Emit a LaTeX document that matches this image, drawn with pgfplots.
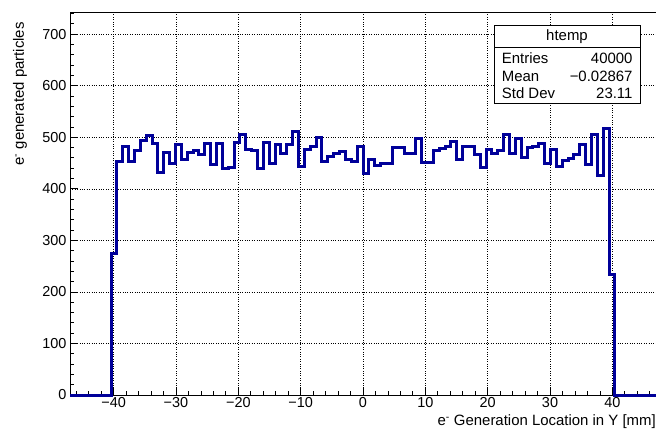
\documentclass[border=0pt]{standalone}
\usepackage{fontspec}
\setmainfont{Liberation Sans}
\usepackage{pgfplots}
\pgfplotsset{compat=1.18}
\definecolor{rootblue}{HTML}{000099}
\begin{document}
\begin{tikzpicture}[x=1bp,y=1bp]
\begin{axis}[
  at={(0,0)}, anchor=south west,
  scale only axis, width=586bp, height=383bp,
  xmin=-47, xmax=47, ymin=0, ymax=743,
  axis line style={line width=0.8bp},
  xtick={-40,-30,...,40},
  xticklabels={−40,−30,−20,−10,0,10,20,30,40},
  ytick={0,100,...,700},
  minor xtick={-46,-44,...,46},
  minor ytick={20,40,...,740},
  tick align=inside,
  xtick pos=bottom, ytick pos=left,
  major tick length=8bp, minor tick length=4bp,
  grid=major, major grid style={black, dotted, line width=0.6bp},
  tick style={black, line width=0.8bp},
  ticklabel style={font=\fontsize{14.5}{17}\selectfont},
  xticklabel style={yshift=1.5bp},
  /pgf/number format/assume math mode=true,
  clip=false,
]
\addplot[const plot, color=rootblue, line width=3bp] coordinates {
(-47,0) (-40.42,275) (-39.48,453) (-38.54,483) (-37.60,453) (-36.66,475)
(-35.72,494) (-34.78,503) (-33.84,488) (-32.90,432) (-31.96,470) (-31.02,450)
(-30.08,486) (-29.14,457) (-28.20,471) (-27.26,474) (-26.32,466) (-25.38,488)
(-24.44,448) (-23.50,488) (-22.56,439) (-21.62,442) (-20.68,490) (-19.74,505)
(-18.80,477) (-17.86,475) (-16.92,440) (-15.98,490) (-15.04,450) (-14.10,485)
(-13.16,469) (-12.22,485) (-11.28,511) (-10.34,443) (-9.40,477) (-8.46,482)
(-7.52,500) (-6.58,453) (-5.64,463) (-4.70,469) (-3.76,472) (-2.82,457)
(-1.88,453) (-0.94,483) (0.00,430) (0.94,456) (1.88,445) (2.82,450)
(3.76,450) (4.70,481) (5.64,481) (6.58,469) (7.52,469) (8.46,498)
(9.40,451) (10.34,451) (11.28,475) (12.22,479) (13.16,482) (14.10,492)
(15.04,457) (15.98,483) (16.92,483) (17.86,466) (18.80,441) (19.74,477)
(20.68,468) (21.62,475) (22.56,505) (23.50,469) (24.44,498) (25.38,461)
(26.32,480) (27.26,482) (28.20,488) (29.14,450) (30.08,477) (31.02,443)
(31.96,455) (32.90,458) (33.84,466) (34.78,485) (35.72,448) (36.66,506)
(37.60,425) (38.54,517) (39.48,233) (40.42,0) (47,0)
};
\end{axis}
% stats box
\draw[fill=white, line width=0.8bp] (424,292) rectangle (570,370);
\draw[line width=0.8bp] (424,347.7) -- (570,347.7);
\begin{scope}[every node/.style={inner sep=0pt, font=\fontsize{15}{17}\selectfont}]
\node[anchor=base] at (497,355) {htemp};
\node[anchor=base west] at (431.7,332) {Entries};
\node[anchor=base east] at (562.7,332) {40000};
\node[anchor=base west] at (431.7,314) {Mean};
\node[anchor=base east] at (562.7,314) {−0.02867};
\node[anchor=base west] at (431.7,297) {Std Dev};
\node[anchor=base east] at (562.7,297) {23.11};
\end{scope}
\begin{scope}[every node/.style={inner sep=0pt, font=\fontsize{15}{17}\selectfont}]
\node[anchor=base east] at (586,-30.5) {e\textsuperscript{-} Generation Location in Y [mm]};
\node[rotate=90, anchor=base east] at (-46,373) {e\textsuperscript{-} generated particles};
\end{scope}
\pgfresetboundingbox
\path (-70,-33) rectangle (586,395);
\end{tikzpicture}
\end{document}
